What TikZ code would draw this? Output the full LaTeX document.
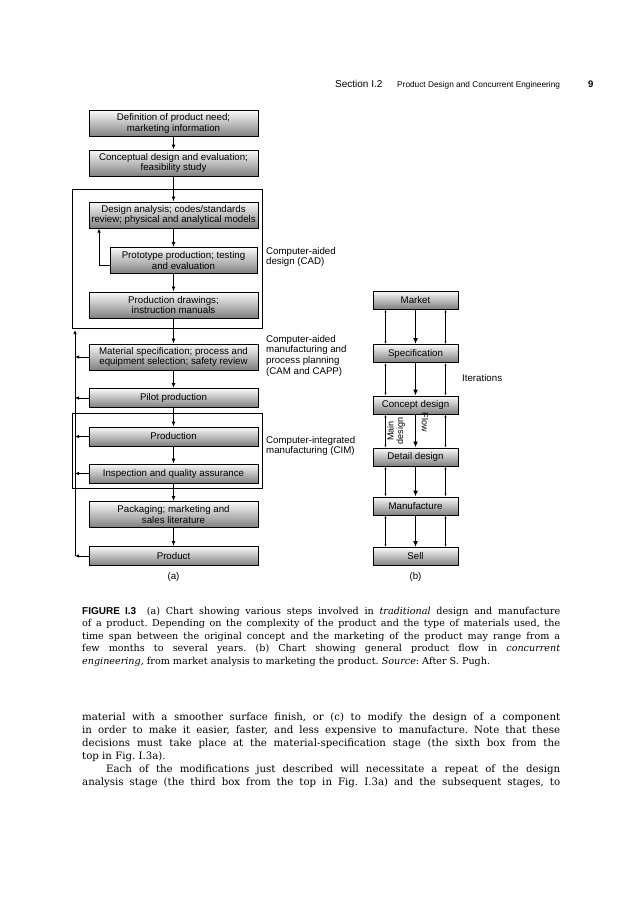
\documentclass[tikz,border=0pt]{standalone}
\usepackage{fontspec}
\setmainfont{DejaVu Serif}
\setsansfont{Liberation Sans}
\usetikzlibrary{arrows.meta,positioning}
\definecolor{boxtop}{gray}{0.98}
\definecolor{boxmid}{gray}{0.88}
\definecolor{boxbot}{gray}{0.5}

\begin{document}
\begin{tikzpicture}[x=1pt,y=-1pt,font=\sffamily\fontsize{9.7}{10.6}\selectfont,
  stage/.style={draw,line width=1pt,top color=boxtop,middle color=boxmid,bottom color=boxbot,align=center,
    minimum width=169pt,minimum height=26pt,inner xsep=1pt,inner ysep=2pt},
  stagesm/.style={stage,minimum height=19pt},
  cstage/.style={stage,minimum width=85pt,minimum height=18pt},
  frame/.style={draw,line width=0.8pt,inner sep=0pt},
  flow/.style={line width=1.1pt,-{Latex[length=5pt,width=4pt]}},
  bigflow/.style={line width=1.5pt,-{Latex[length=6pt,width=5pt]}},
  back/.style={line width=0.9pt,-{Latex[length=4pt,width=3.5pt]}},
  iter/.style={line width=0.4pt,{Latex[length=3pt,width=2pt]}-{Latex[length=3pt,width=2pt]}},
  note/.style={align=left,inner sep=0pt,anchor=north west},
  book/.style={inner sep=0pt,anchor=north west,text width=478pt,align=justify}]
\useasboundingbox (0,0) rectangle (636,900);

% running head
\node[anchor=base west,inner sep=0pt,font=\sffamily\fontsize{10}{11}\selectfont] (sec) at (335,87) {Section I.2};
\node[anchor=base west,inner sep=0pt,font=\sffamily\fontsize{8.3}{10}\selectfont] (runhead) at (397,87) {Product Design and Concurrent Engineering};
\node[anchor=base west,inner sep=0pt,font=\sffamily\bfseries\fontsize{9.5}{10}\selectfont] (folio) at (588,87) {9};

% (a) traditional
\node[frame,minimum width=190pt,minimum height=139pt] (cad) at (167,258.5) {};
\node[frame,minimum width=190pt,minimum height=75pt] (cim) at (167,450.5) {};
\node[stage] (need) at (173.5,123.5) {Definition of product need;\\marketing information};
\node[stage] (concept) at (173.5,163) {Conceptual design and evaluation;\\feasibility study};
\node[stage] (analysis) at (173.5,215) {Design analysis; codes/standards\\review; physical and analytical models};
\node[stage,minimum width=147pt] (proto) at (183.5,260.5) {Prototype production; testing\\and evaluation};
\node[stage] (drawings) at (173.5,305) {Production drawings;\\instruction manuals};
\node[stage] (matspec) at (173.5,357) {Material specification; process and\\equipment selection; safety review};
\node[stagesm] (pilot) at (173.5,398) {Pilot production};
\node[stagesm] (prodn) at (173.5,436.5) {Production};
\node[stagesm] (inspect) at (173.5,473.5) {Inspection and quality assurance};
\node[stage] (pack) at (173.5,514.5) {Packaging; marketing and\\sales literature};
\node[stagesm] (product) at (173.5,556) {Product};

\draw[flow] (need) -- (concept);
\draw[flow] (concept) -- (analysis);
\draw[flow] (analysis.south) -- (analysis.south |- proto.north);
\draw[flow] (analysis.south |- proto.south) -- (drawings.north);
\draw[flow] (drawings) -- (matspec);
\draw[flow] (matspec) -- (pilot);
\draw[flow] (pilot) -- (prodn);
\draw[flow] (prodn) -- (inspect);
\draw[flow] (inspect) -- (pack);
\draw[flow] (pack) -- (product);

% feedback
\draw[back] ([yshift=-5pt]proto.west) -| ([xshift=-74.5pt]analysis.south);
\coordinate (fbtop) at (75,330);
\draw[back] (product.west -| fbtop) -- (fbtop);
\foreach \n in {matspec,pilot,prodn,inspect,product}
  \draw[back] (\n.west) -- (\n.west -| fbtop);

\node[note] (cadnote) at (266,247) {Computer-aided\\design (CAD)};
\node[note] (camnote) at (266,335) {Computer-aided\\manufacturing and\\process planning\\(CAM and CAPP)};
\node[note] (cimnote) at (266,436) {Computer-integrated\\manufacturing (CIM)};
\node (figa) at (173.5,577) {(a)};

% (b) concurrent
\node[cstage] (market) at (415.5,300) {Market};
\node[cstage] (spec) at (415.5,353.5) {Specification};
\node[cstage] (cdesign) at (415.5,405) {Concept design};
\node[cstage] (ddesign) at (415.5,457) {Detail design};
\node[cstage] (manuf) at (415.5,506) {Manufacture};
\node[cstage] (sell) at (415.5,556.5) {Sell};
\foreach \a/\b in {market/spec,spec/cdesign,cdesign/ddesign,ddesign/manuf,manuf/sell} {
  \draw[bigflow] (\a) -- (\b);
  \draw[iter] ([xshift=-30pt]\a.south) -- ([xshift=-30pt]\b.north);
  \draw[iter] ([xshift=30pt]\a.south) -- ([xshift=30pt]\b.north);
}
\node[rotate=90,align=center,inner sep=0pt,font=\sffamily\fontsize{9}{9.5}\selectfont] (maindes) at (396,431) {Main\\design};
\node[rotate=-90,inner sep=0pt,font=\sffamily\fontsize{9}{9.5}\selectfont] (flowlbl) at (425,422) {Flow};
\node[anchor=west,inner sep=0pt] (iterlbl) at (462,378) {Iterations};
\node (figb) at (415.5,577) {(b)};

% caption and text
\node[book,font=\rmfamily\frenchspacing\fontsize{9.6}{12.4}\selectfont] (caption) at (82,607)
  {\noindent{\sffamily\bfseries\fontsize{10}{12}\selectfont FIGURE I.3}\hspace{1.1em}(a) Chart showing various steps involved in \textit{traditional} design and manufacture\linebreak
  of a product. Depending on the complexity of the product and the type of materials used, the\linebreak
  time span between the original concept and the marketing of the product may range from a\linebreak
  few months to several years. (b) Chart showing general product flow in \textit{concurrent}\linebreak
  \textit{engineering}, from market analysis to marketing the product. \textit{Source}: After S. Pugh.};
\node[book,font=\rmfamily\frenchspacing\fontsize{10.2}{13}\selectfont] (body) at (82,713)
  {\noindent material with a smoother surface finish, or (c) to modify the design of a component\linebreak
  in order to make it easier, faster, and less expensive to manufacture. Note that these\linebreak
  decisions must take place at the material-specification stage (the sixth box from the\linebreak
  top in Fig.~I.3a).\par
  \noindent\hspace*{24pt}Each of the modifications just described will necessitate a repeat of the design\linebreak
  analysis stage (the third box from the top in Fig.~I.3a) and the subsequent stages, to\linebreak\mbox{}};
\end{tikzpicture}
\end{document}
